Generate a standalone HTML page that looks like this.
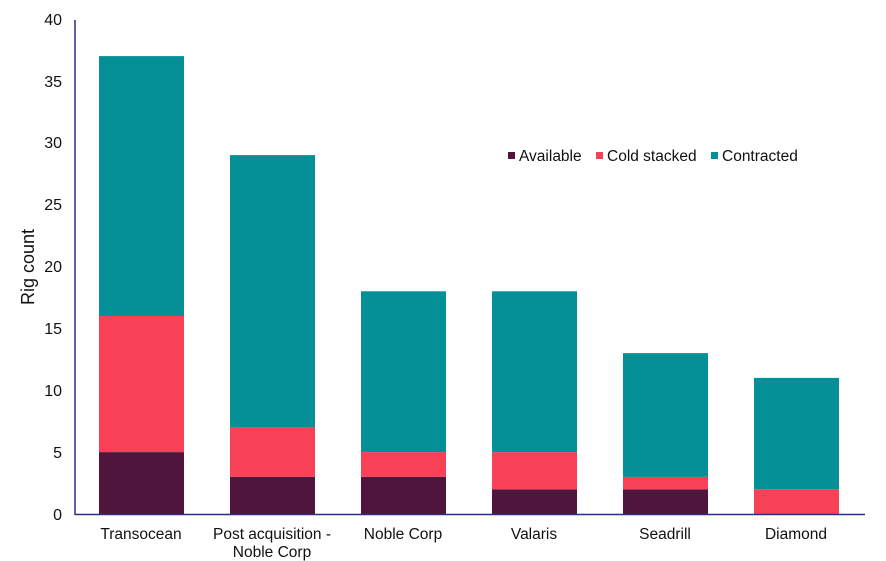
<!DOCTYPE html>
<html><head><meta charset="utf-8"><style>
html,body{margin:0;padding:0;background:#fff;}
svg{display:block;font-family:"Liberation Sans",Arial,sans-serif;}
</style></head><body>
<svg width="886" height="561" viewBox="0 0 886 561">
<rect width="886" height="561" fill="#fff"/>
<g font-size="16" fill="#111" text-anchor="end">
<text x="62" y="520">0</text>
<text x="62" y="458">5</text>
<text x="62" y="396">10</text>
<text x="62" y="334">15</text>
<text x="62" y="272">20</text>
<text x="62" y="210">25</text>
<text x="62" y="148">30</text>
<text x="62" y="87">35</text>
<text x="62" y="25">40</text>
</g>
<text transform="translate(34,267) rotate(-90)" font-size="18" fill="#111" text-anchor="middle">Rig count</text>
<g>
<rect x="99" y="452.1" width="85" height="61.9" fill="#50153c"/>
<rect x="99" y="316" width="85" height="136.1" fill="#f84056"/>
<rect x="99" y="56.1" width="85" height="259.9" fill="#058f96"/>
<rect x="230" y="476.9" width="85" height="37.1" fill="#50153c"/>
<rect x="230" y="427.4" width="85" height="49.5" fill="#f84056"/>
<rect x="230" y="155.1" width="85" height="272.3" fill="#058f96"/>
<rect x="361" y="476.9" width="85" height="37.1" fill="#50153c"/>
<rect x="361" y="452.1" width="85" height="24.8" fill="#f84056"/>
<rect x="361" y="291.3" width="85" height="160.8" fill="#058f96"/>
<rect x="492" y="489.3" width="85" height="24.7" fill="#50153c"/>
<rect x="492" y="452.1" width="85" height="37.2" fill="#f84056"/>
<rect x="492" y="291.3" width="85" height="160.8" fill="#058f96"/>
<rect x="623" y="489.3" width="85" height="24.7" fill="#50153c"/>
<rect x="623" y="476.9" width="85" height="12.4" fill="#f84056"/>
<rect x="623" y="353.1" width="85" height="123.8" fill="#058f96"/>
<rect x="754" y="489.3" width="85" height="24.7" fill="#f84056"/>
<rect x="754" y="377.9" width="85" height="111.4" fill="#058f96"/>
</g>
<line x1="75" y1="20" x2="75" y2="515" stroke="#2e2e80" stroke-width="1.5"/>
<line x1="75" y1="514.5" x2="865" y2="514.5" stroke="#2e2e80" stroke-width="1.5"/>
<g font-size="15.5" fill="#111" text-anchor="middle">
<text x="141" y="539">Transocean</text>
<text x="272" y="539">Post acquisition -</text>
<text x="272" y="557">Noble Corp</text>
<text x="403" y="539">Noble Corp</text>
<text x="534" y="539">Valaris</text>
<text x="665" y="539">Seadrill</text>
<text x="796" y="539">Diamond</text>
</g>
<g font-size="15.5" fill="#111">
<rect x="508" y="152" width="7" height="7" fill="#50153c"/>
<text x="519" y="161">Available</text>
<rect x="596" y="152" width="7" height="7" fill="#f84056"/>
<text x="607" y="161">Cold stacked</text>
<rect x="711" y="152" width="7" height="7" fill="#058f96"/>
<text x="722" y="161">Contracted</text>
</g>
</svg>
</body></html>
